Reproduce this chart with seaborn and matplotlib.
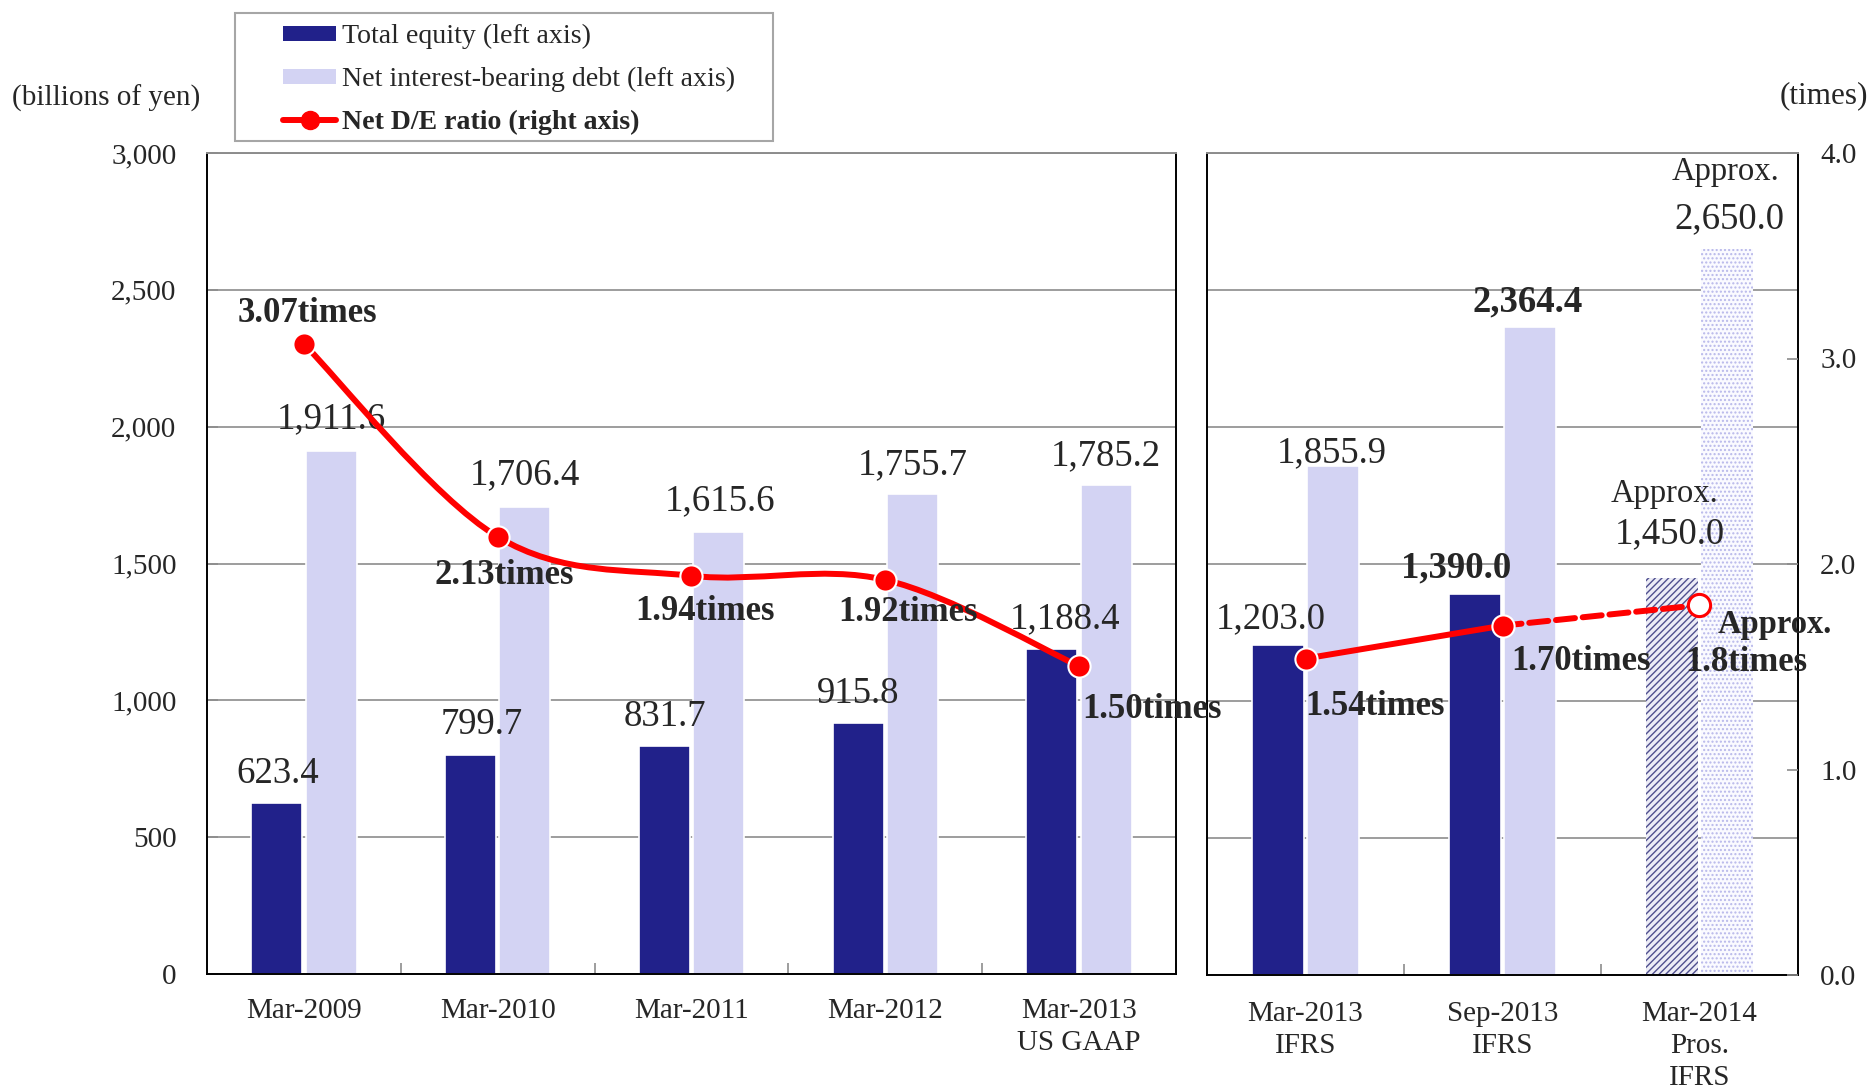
import numpy as np
import pandas as pd
import matplotlib
matplotlib.use("Agg")
import matplotlib.pyplot as plt
from matplotlib.path import Path
from matplotlib.patches import PathPatch, Rectangle, Patch
from matplotlib.lines import Line2D
import seaborn as sns

# ---------------- data ----------------
left_categories = ["Mar-2009", "Mar-2010", "Mar-2011", "Mar-2012", "Mar-2013\nUS GAAP"]
left_equity = [623.4, 799.7, 831.7, 915.8, 1188.4]
left_debt = [1911.6, 1706.4, 1615.6, 1755.7, 1785.2]
left_ratio = [3.07, 2.13, 1.94, 1.92, 1.50]

right_categories = ["Mar-2013\nIFRS", "Sep-2013\nIFRS", "Mar-2014\nPros.\nIFRS"]
right_equity = [1203.0, 1390.0, 1450.0]
right_debt = [1855.9, 2364.4, 2650.0]
right_ratio = [1.54, 1.70, 1.8]

left_equity_labels = ["623.4", "799.7", "831.7", "915.8", "1,188.4"]
left_debt_labels = ["1,911.6", "1,706.4", "1,615.6", "1,755.7", "1,785.2"]
left_ratio_labels = ["3.07times", "2.13times", "1.94times", "1.92times", "1.50times"]
right_equity_labels = ["1,203.0", "1,390.0", "1,450.0"]
right_debt_labels = ["1,855.9", "2,364.4", "2,650.0"]
right_ratio_labels = ["1.54times", "1.70times", "1.8times"]
approx_text = "Approx."

left_ticks = [0, 500, 1000, 1500, 2000, 2500, 3000]
left_tick_labels = ["0", "500", "1,000", "1,500", "2,000", "2,500", "3,000"]
right_ticks = [0, 1, 2, 3, 4]
right_tick_labels = ["0.0", "1.0", "2.0", "3.0", "4.0"]
series_names = ["Total equity (left axis)",
                "Net interest-bearing debt (left axis)",
                "Net D/E ratio (right axis)"]
left_unit = "(billions of yen)"
right_unit = "(times)"

# ---------------- style ----------------
NAVY = "#21218A"
LAV = "#D3D3F3"
RED = "#FF0000"
GRID = "#8C8C8C"

sns.set_style("white")
plt.rcParams["font.family"] = ["Liberation Serif", "DejaVu Serif"]
plt.rcParams["hatch.linewidth"] = 1.0

W, H = 1874, 1091
fig = plt.figure(figsize=(W / 100, H / 100), dpi=100)


def rect(x0, y0, x1, y1):
    return [x0 / W, 1 - y1 / H, (x1 - x0) / W, (y1 - y0) / H]


axL = fig.add_axes(rect(207, 153, 1176, 974))
axR = fig.add_axes(rect(1207, 153, 1798, 975))


def draw_bars(ax, cats, eq, debt):
    df = pd.DataFrame({
        "category": cats * 2,
        "series": [series_names[0]] * len(cats) + [series_names[1]] * len(cats),
        "value": list(eq) + list(debt),
    })
    sns.barplot(data=df, x="category", y="value", hue="series",
                order=cats, hue_order=series_names[:2],
                palette=[NAVY, LAV], saturation=1, width=0.56, gap=0.06,
                errorbar=None, legend=False, ax=ax,
                edgecolor="white", linewidth=1.2, zorder=2)
    ax.set_xlabel("")
    ax.set_ylabel("")
    eq_bars = sorted(ax.containers[0].patches, key=lambda p: p.get_x())
    debt_bars = sorted(ax.containers[1].patches, key=lambda p: p.get_x())
    return eq_bars, debt_bars


eqL, dbL = draw_bars(axL, left_categories, left_equity, left_debt)
eqR, dbR = draw_bars(axR, right_categories, right_equity, right_debt)

# projected bars (hatched)
p = eqR[-1]
p.set_facecolor("#ECECF6")
p.set_edgecolor("#4F4F8E")
p.set_hatch("/////")
p.set_linewidth(0)
p = dbR[-1]
p.set_facecolor("#FAFAFF")
p.set_edgecolor("#B8B8EA")
p.set_hatch("....")
p.set_linewidth(0)

for ax, n, pad in ((axL, len(left_categories), 17), (axR, len(right_categories), 19)):
    ax.set_xlim(-0.5, n - 0.5)
    ax.set_ylim(0, 3000)
    ax.set_yticks(left_ticks)
    ax.set_axisbelow(True)
    ax.yaxis.grid(True, color=GRID, lw=1.2)
    ax.xaxis.grid(False)
    ax.set_xticks(np.arange(n) + 0.5, minor=True)
    ax.tick_params(axis="x", which="major", length=0, labelsize=21, pad=pad)
    ax.tick_params(axis="x", which="minor", direction="in", length=8,
                   color=GRID, width=1.2, bottom=True)
    for s in ("left", "right", "bottom"):
        ax.spines[s].set_color("black")
        ax.spines[s].set_linewidth(1.4)
        ax.spines[s].set_visible(True)
    ax.spines["top"].set_color(GRID)
    ax.spines["top"].set_linewidth(1.4)
    ax.spines["top"].set_visible(True)

axL.set_xticks(range(len(left_categories)))
axL.set_xticklabels(left_categories, linespacing=1.3)
axR.set_xticks(range(len(right_categories)))
axR.set_xticklabels(right_categories, linespacing=1.3)

axL.set_yticklabels(left_tick_labels)
axL.tick_params(axis="y", direction="in", length=8, color=GRID, width=1.2,
                labelsize=21, pad=22, left=True)
axR.tick_params(axis="y", length=0, labelleft=False, left=False)
axR.patch.set_alpha(0)

# twin axes for the ratio
axL2 = axL.twinx()
axR2 = axR.twinx()
for ax2, n in ((axL2, len(left_categories)), (axR2, len(right_categories))):
    ax2.set_ylim(0, 4)
    ax2.set_xlim(-0.5, n - 0.5)
    for s in ax2.spines.values():
        s.set_visible(False)
    ax2.grid(False)
axL2.set_yticks([])
axR2.set_yticks(right_ticks)
axR2.set_yticklabels(right_tick_labels)
axR2.tick_params(axis="y", direction="in", length=8, color=GRID, width=1.2,
                 labelsize=21, pad=16, right=True)

LW = 4.3
MS = 16

# left panel: smoothed line
xl = np.arange(len(left_ratio), dtype=float)
pts = np.column_stack([xl, left_ratio])
verts = [pts[0]]
codes = [Path.MOVETO]
for i in range(len(pts) - 1):
    p0 = pts[i - 1] if i > 0 else pts[i]
    p1 = pts[i]
    p2 = pts[i + 1]
    p3 = pts[i + 2] if i + 2 < len(pts) else pts[i + 1]
    verts += [p1 + (p2 - p0) / 6.0, p2 - (p3 - p1) / 6.0, p2]
    codes += [Path.CURVE4] * 3
axL2.add_patch(PathPatch(Path(verts, codes), facecolor="none", edgecolor=RED,
                         lw=LW, capstyle="round", joinstyle="round", zorder=3))
sns.scatterplot(x=xl, y=left_ratio, ax=axL2, color=RED, s=MS ** 2,
                edgecolor="white", linewidth=1.5, zorder=4, legend=False)

# right panel: solid then dashed projection
xr = np.arange(len(right_ratio), dtype=float)
sns.lineplot(x=xr[:2], y=right_ratio[:2], ax=axR2, color=RED, lw=LW,
             sort=False, zorder=3, legend=False)
sns.lineplot(x=xr[1:], y=right_ratio[1:], ax=axR2, color=RED, lw=LW,
             sort=False, zorder=3, legend=False, dashes=False)
axR2.lines[-1].set_dashes([3.2, 1.3])
axR2.lines[-1].set_dash_capstyle("round")
axR2.lines[0].set_solid_capstyle("round")
sns.scatterplot(x=xr[:2], y=right_ratio[:2], ax=axR2, color=RED, s=MS ** 2,
                edgecolor="white", linewidth=1.5, zorder=4, legend=False)
sns.scatterplot(x=xr[2:], y=right_ratio[2:], ax=axR2, color="white", s=MS ** 2,
                edgecolor=RED, linewidth=2.2, zorder=4, legend=False)
for ax2, n in ((axL2, len(left_categories)), (axR2, len(right_categories))):
    ax2.set_ylim(0, 4)
    ax2.set_xlim(-0.5, n - 0.5)
    ax2.set_xlabel("")
    ax2.set_ylabel("")
axL2.set_yticks([])

# ---------------- labels ----------------
VAL_FS = 26.5
RAT_FS = 25


def bar_label(ax, bar, text, dx, dy, bold=False, fs=VAL_FS):
    cx = bar.get_x() + bar.get_width() / 2
    ax.annotate(text, xy=(cx, bar.get_height()), xytext=(dx, dy),
                textcoords="offset pixels", ha="center", va="center",
                fontsize=fs, fontweight="bold" if bold else "normal",
                annotation_clip=False)


eq_off_L = [(1, 30), (11, 30), (1, 30), (0, 30), (13, 30)]
db_off_L = [(0, 32), (0, 32), (1, 31), (0, 29), (0, 30)]
for b, t, o in zip(eqL, left_equity_labels, eq_off_L):
    bar_label(axL, b, t, *o)
for b, t, o in zip(dbL, left_debt_labels, db_off_L):
    bar_label(axL, b, t, *o)

eq_off_R = [(-7, 26), (-19, 26), (-2, 44)]
eq_bold_R = [False, True, False]
db_off_R = [(-1, 14), (-2, 25), (2, 30)]
db_bold_R = [False, True, False]
for b, t, o, bd in zip(eqR, right_equity_labels, eq_off_R, eq_bold_R):
    bar_label(axR, b, t, *o, bold=bd)
for b, t, o, bd in zip(dbR, right_debt_labels, db_off_R, db_bold_R):
    bar_label(axR, b, t, *o, bold=bd)
bar_label(axR, eqR[-1], approx_text, -7, 84, fs=23.5)
bar_label(axR, dbR[-1], approx_text, -2, 77, fs=23.5)

rat_off_L = [(4, 30), (7, -39), (14, -36), (23, -33), (73, -43)]
for x, y, t, o in zip(xl, left_ratio, left_ratio_labels, rat_off_L):
    axL2.annotate(t, xy=(x, y), xytext=o, textcoords="offset pixels",
                  ha="center", va="center", fontsize=RAT_FS,
                  fontweight="bold", annotation_clip=False, zorder=6)
rat_off_R = [(69, -48), (79, -36), (47, -57)]
for x, y, t, o in zip(xr, right_ratio, right_ratio_labels, rat_off_R):
    axR2.annotate(t, xy=(x, y), xytext=o, textcoords="offset pixels",
                  ha="center", va="center", fontsize=RAT_FS,
                  fontweight="bold", annotation_clip=False, zorder=6)
axR2.annotate(approx_text, xy=(xr[-1], right_ratio[-1]), xytext=(75, -19),
              textcoords="offset pixels", ha="center", va="center",
              fontsize=23.5, fontweight="bold", annotation_clip=False, zorder=6)

# units
fig.text(12 / W, 1 - 98 / H, left_unit, ha="left", va="center", fontsize=21)
fig.text(1868 / W, 1 - 96 / H, right_unit, ha="right", va="center", fontsize=22.5)

# ---------------- legend ----------------
handles = [Patch(facecolor=NAVY, edgecolor="none"),
           Patch(facecolor=LAV, edgecolor="none"),
           Line2D([], [], color=RED, lw=LW, marker="o", markersize=13,
                  markerfacecolor=RED, markeredgecolor=RED)]
leg = fig.legend(handles, series_names, loc="upper left",
                 bbox_to_anchor=(283 / W, 1 - 24 / H), frameon=False,
                 fontsize=20.1, handlelength=1.9, handleheight=0.45,
                 handletextpad=0.2, labelspacing=0.64, borderpad=0,
                 borderaxespad=0)
leg.get_texts()[2].set_fontweight("bold")
fig.add_artist(Rectangle((235 / W, 1 - 141 / H), 538 / W, 128 / H,
                         transform=fig.transFigure, fill=False,
                         edgecolor="#A6A6A6", lw=1.5))

fig.savefig("out.png", dpi=100)
